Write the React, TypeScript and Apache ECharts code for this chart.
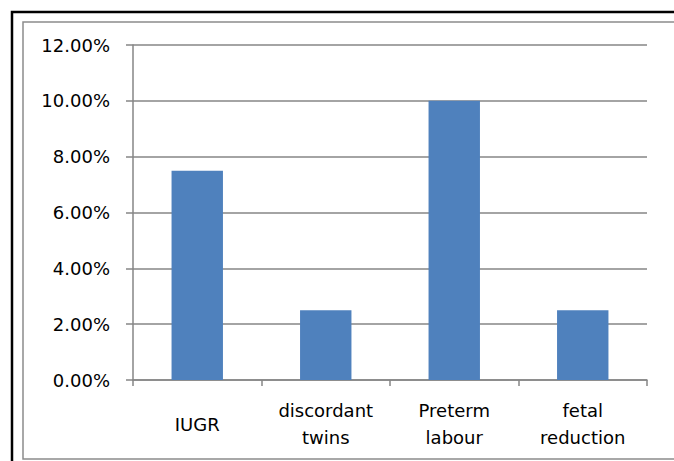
import React, { useEffect, useRef } from "react";
import * as echarts from "echarts";

const categories = ["IUGR", "discordant\ntwins", "Preterm\nlabour", "fetal\nreduction"];
const values = [0.075, 0.025, 0.1, 0.025];
const yTicks = { min: 0, max: 0.12, interval: 0.02 };

export default function App() {
  const ref = useRef<HTMLDivElement>(null);
  useEffect(() => {
    if (!ref.current) return;
    const chart = echarts.init(ref.current, null, { renderer: "svg" });
    const font = "DejaVu Sans";
    chart.setOption({
      animation: false,
      backgroundColor: "#ffffff",
      textStyle: { fontFamily: font },
      graphic: [
        {
          type: "rect",
          shape: { x: 12, y: 12, width: 700, height: 500 },
          style: { fill: "none", stroke: "#000000", lineWidth: 2.5 },
          silent: true,
        },
        {
          type: "rect",
          shape: { x: 23, y: 22, width: 700, height: 437 },
          style: { fill: "none", stroke: "#8c8c8c", lineWidth: 1.5 },
          silent: true,
        },
      ],
      grid: { left: 133, right: 27, top: 45, bottom: 81, containLabel: false },
      xAxis: {
        type: "category",
        data: categories,
        axisLine: { lineStyle: { color: "#868686", width: 1.5 } },
        axisTick: { show: true, length: 6, lineStyle: { color: "#868686", width: 1.5 } },
        axisLabel: {
          color: "#000000",
          fontFamily: font,
          fontSize: 18,
          lineHeight: 27,
          verticalAlign: "middle",
          margin: 44,
          interval: 0,
        },
      },
      yAxis: {
        type: "value",
        min: yTicks.min,
        max: yTicks.max,
        interval: yTicks.interval,
        axisLine: { show: true, lineStyle: { color: "#868686", width: 1.5 } },
        axisTick: { show: true, length: 7, lineStyle: { color: "#868686", width: 1.5 } },
        splitLine: { lineStyle: { color: "#868686", width: 1.5 } },
        axisLabel: {
          color: "#000000",
          fontFamily: font,
          fontSize: 18,
          margin: 23,
          formatter: (v: number) => (v * 100).toFixed(2) + "%",
        },
      },
      series: [
        {
          type: "bar",
          data: values,
          barWidth: "40%",
          itemStyle: { color: "#4F81BD" },
        },
      ],
    });
    return () => chart.dispose();
  }, []);
  return (
    <div style={{ position: "fixed", left: 0, top: 0, width: 674, height: 461, background: "#fff" }}>
      <div ref={ref} style={{ width: 674, height: 461 }} />
    </div>
  );
}
